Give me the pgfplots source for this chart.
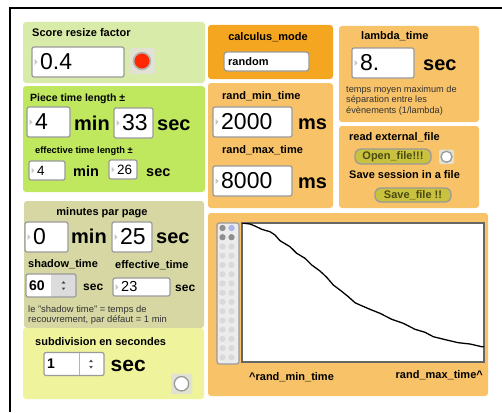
\documentclass[border=0pt]{standalone}
\usepackage{pgfplots}
\pgfplotsset{compat=1.18}
\usepackage{fontspec}
\setmainfont{Liberation Sans}
\definecolor{lgreen}{HTML}{D9EBA8}
\definecolor{bgreen}{HTML}{BFE85F}
\definecolor{khaki}{HTML}{D6D7A2}
\definecolor{lyellow}{HTML}{EEF39C}
\definecolor{dorange}{HTML}{F4A621}
\definecolor{lorange}{HTML}{F7C268}
\definecolor{boxgray}{HTML}{9A9A9A}
\definecolor{tri}{HTML}{C8C8C8}
\definecolor{togbg}{HTML}{E2E2D2}
\definecolor{btnolive}{HTML}{C9C23E}
\definecolor{btntext}{HTML}{4A4A12}
\definecolor{dotgray}{HTML}{D9D9D9}
\definecolor{dotdark}{HTML}{8E8E8E}
\definecolor{dotblue}{HTML}{AAB4EC}
\definecolor{spingray}{HTML}{DCDCDC}
\definecolor{commentc}{HTML}{333333}
\newcommand{\bl}[4][11]{\node[anchor=base west,inner sep=0pt,font=\fontsize{#1}{#1}\selectfont\bfseries] at (#2,#3) {#4};}
\newcommand{\rl}[4][9.4]{\node[anchor=base west,inner sep=0pt,text=commentc,font=\fontsize{#1}{#1}\selectfont] at (#2,#3) {#4};}
\newcommand{\nbox}[6]{%
  \draw[boxgray, fill=white, rounded corners=2pt, line width=1.2pt] (#1,#2) rectangle (#3,#4);
  \fill[tri] (#1+2.5,{(#2+#4)/2-3}) -- (#1+2.5,{(#2+#4)/2+3}) -- (#1+5.5,{(#2+#4)/2}) -- cycle;
  \node[anchor=west, inner sep=0pt, font=\fontsize{#5}{#5}\selectfont] at (#1+8,{(#2+#4)/2}) {#6};
}
\newcommand{\arrows}[2]{%
  \fill[black!70] (#1-1.8,#2-2) -- (#1+1.8,#2-2) -- (#1,#2-4.5) -- cycle;
  \fill[black!70] (#1-1.8,#2+2) -- (#1+1.8,#2+2) -- (#1,#2+4.5) -- cycle;
}
\newcommand{\toggle}[5]{%
  \fill[togbg, rounded corners=2pt] (#1,#2) rectangle (#3,#4);
  \draw[boxgray, line width=1.3pt, fill=white] ({(#1+#3)/2},{(#2+#4)/2}) circle (#5);
}
\newcommand{\btn}[5]{%
  \draw[boxgray, line width=1.3pt, fill=btnolive, rounded corners=6pt] (#1,#2) rectangle (#3,#4);
  \node[inner sep=0pt, text=btntext, font=\fontsize{11}{11}\selectfont\bfseries] at ({(#1+#3)/2},{(#2+#4)/2+0.5}) {#5};
}
\begin{document}
\begin{tikzpicture}
\begin{scope}[x=1pt,y=-1pt]
\useasboundingbox (0,0) rectangle (502,412);
\fill[white] (0,0) rectangle (502,412);
\draw[black, line width=2.6pt] (10,412) -- (10,8) -- (502,8);
% ---- panel 1
\fill[lgreen, rounded corners=3pt] (23,22) rectangle (205,83);
\bl{32}{37}{Score resize factor}
\nbox{32}{47}{124}{77}{23}{0.4}
\fill[togbg, rounded corners=2pt] (129,48) rectangle (155,74);
\draw[black!30, line width=1.6pt, fill={rgb,255:red,255;green,40;blue,0}] (142,61) circle (8.4);
% ---- panel 2
\fill[bgreen, rounded corners=3pt] (23,86) rectangle (205,192);
\bl[10.5]{30}{101}{Piece time length ±}
\nbox{27}{107}{70}{137}{23}{4}
\bl[20]{74}{130}{min}
\nbox{114}{108}{153}{138}{23}{33}
\bl[20]{157}{130}{sec}
\bl[9.3]{35}{153}{effective time length ±}
\nbox{29}{161}{65}{180}{13.5}{4}
\bl[14.5]{73}{176}{min}
\nbox{109}{160}{137}{179}{13.5}{26}
\bl[14.5]{146}{176}{sec}
% ---- panel 3
\fill[khaki, rounded corners=3pt] (24,201) rectangle (204,328);
\node[anchor=base,inner sep=0pt,font=\fontsize{11}{11}\selectfont\bfseries] at (102,215) {minutes par page};
\nbox{25}{222}{68}{252}{23}{0}
\bl[20]{71}{243}{min}
\nbox{112}{222}{152}{252}{23}{25}
\bl[20]{156}{243}{sec}
\bl{28}{267}{shadow\_time}
\bl{115}{268}{effective\_time}
\fill[white, rounded corners=2pt] (26,274) rectangle (76,297);
\fill[spingray, rounded corners=2pt] (51,274) rectangle (76,297);
\fill[spingray] (51,274) rectangle (60,297);
\draw[boxgray, line width=1.2pt, rounded corners=2pt] (26,274) rectangle (76,297);
\node[anchor=west,inner sep=0pt,font=\fontsize{14}{14}\selectfont\bfseries] at (29,285.5) {60};
\arrows{63.5}{285.5}
\bl[12]{83}{290}{sec}
\nbox{113}{278}{170}{296}{14.5}{23}
\bl[12]{175}{291}{sec}
\rl{28}{312}{le "shadow time" = temps de}
\rl{28}{322}{recouvrement, par défaut = 1 min}
% ---- panel 4
\fill[lyellow, rounded corners=3pt] (23,328) rectangle (204,399);
\bl{35}{345.5}{subdivision en secondes}
\draw[boxgray, fill=white, line width=1.2pt, rounded corners=2pt] (44,352.5) rectangle (104,375.5);
\draw[black!30, line width=0.8pt] (79.5,353) -- (79.5,375);
\node[anchor=west,inner sep=0pt,font=\fontsize{14}{14}\selectfont\bfseries] at (47,364) {1};
\arrows{91}{364}
\bl[21]{110.5}{371}{sec}
\toggle{171}{373.5}{192}{394}{7.2}
% ---- panel 5 calculus_mode
\fill[dorange, rounded corners=3pt] (208,25) rectangle (333,79);
\node[anchor=base,inner sep=0pt,font=\fontsize{11}{11}\selectfont\bfseries] at (268,41) {calculus\_mode};
\draw[boxgray, fill=white, line width=1.2pt, rounded corners=3pt] (224,52) rectangle (309,71);
\node[anchor=west,inner sep=0pt,font=\fontsize{11}{11}\selectfont\bfseries] at (228,61.5) {random};
% ---- panel 6 rand times
\fill[lorange, rounded corners=3pt] (208,83) rectangle (333,208);
\bl{222}{99}{rand\_min\_time}
\nbox{213}{107}{292}{137}{23}{2000}
\bl[20]{298}{129}{ms}
\bl{222}{153}{rand\_max\_time}
\nbox{213}{166}{292}{196}{23}{8000}
\bl[20]{298}{188}{ms}
% ---- panel 7 lambda
\fill[lorange, rounded corners=3pt] (339,26) rectangle (479,122);
\bl{361}{39}{lambda\_time}
\nbox{352}{48}{414}{78}{23}{8.}
\bl[20]{423}{70}{sec}
\rl[9.2]{346}{92}{temps moyen maximum de}
\rl[9.2]{346}{102.5}{séparation entre les}
\rl[9.2]{346}{113}{évènements (1/lambda)}
% ---- panel 8 files
\fill[lorange, rounded corners=3pt] (339,126) rectangle (479,208);
\bl{349}{140}{read external\_file}
\btn{355}{149}{431}{164}{Open\_file!!!}
\toggle{439}{149.5}{454}{164}{5.5}
\bl{349}{178}{Save session in a file}
\btn{375}{188}{451}{202}{Save\_file !!}
% ---- panel 9 plot
\fill[lorange, rounded corners=3pt] (208,213) rectangle (488,396);
\draw[boxgray, fill={rgb,255:red,236;green,236;blue,236}, line width=1.2pt, rounded corners=2.5pt] (217,223) rectangle (239,364);
\foreach \i in {0,...,14} {
  \fill[dotgray] (222.5,228+9.24*\i) circle (3.1);
  \fill[dotgray] (231.5,228+9.24*\i) circle (3.1);
}
\fill[dotdark] (222.5,228) circle (3.1);
\fill[dotblue] (231.5,228) circle (3.1);
\fill[dotdark] (222.5,237.24) circle (3.1);
\fill[dotdark] (231.5,237.24) circle (3.1);
\bl{249}{380}{\textasciicircum rand\_min\_time}
\node[anchor=base east,inner sep=0pt,font=\fontsize{11}{11}\selectfont\bfseries] at (483,378) {rand\_max\_time\textasciicircum};
\coordinate (plotsw) at (242,362);
\end{scope}
\begin{axis}[at={(plotsw)}, anchor=south west, scale only axis,
  width=242pt, height=139pt, xmin=0, xmax=242, ymin=0, ymax=139,
  ticks=none, axis line style={draw=black!60, line width=1.2pt},
  axis background/.style={fill=white}, clip=true]
\addplot[black, line width=1.3pt, mark=none] coordinates {
(0,139) (8,138) (13,136) (19.7,132.7) (28,130.3) (33,127) (38,121.3) (48,115.3)
(54.7,108.7) (63,103.7) (69.7,97) (78,91) (84.7,84.7) (91.3,77) (98,72)
(106.3,65.3) (113,59.3) (118,57) (128,52.7) (138,48.7) (149.7,42.7) (161.3,38.7)
(173,32.7) (183,29.7) (191.3,25.3) (204.7,22) (216.3,19.3) (228,18) (239.7,15.3) (242,15.3)
};
\end{axis}
\end{tikzpicture}
\end{document}
